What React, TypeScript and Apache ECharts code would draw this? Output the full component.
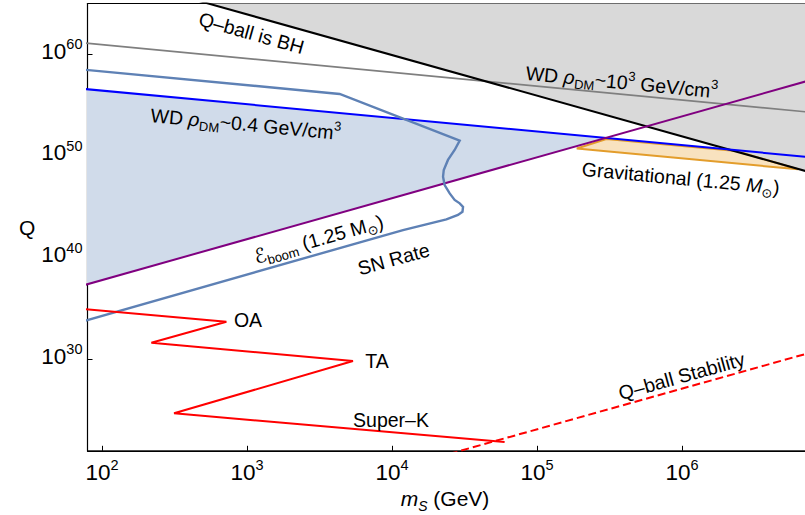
import React, { useEffect, useRef } from "react";
import * as echarts from "echarts";

// ---- data (masses in GeV, Q dimensionless) ----
const xTickExponents = [2, 3, 4, 5, 6];
const yTickExponents = [30, 40, 50, 60];

const bhMass = [100, 1e7];
const bhQ = [8.5e67, 8.5e47];
const bhRegionMass = [100, 1e7, 1e7, 100];
const bhRegionQ = [8.5e67, 8.5e47, 1e70, 1e70];

const wdHighMass = [50, 1e7];
const wdHighQ = [2.3e61, 1.4e54];

const wdLowMass = [50, 1e7];
const wdLowQ = [6.8e56, 5.3e49];

const boomMass = [50, 1e7];
const boomQ = [3.8e36, 8.5e57];

const excludedMass = [50, 2.95e5, 50];
const excludedQ = [6.8e56, 5.9e51, 3.8e36];

const snMass = [50, 4355, 29300, 27040, 24320, 22750, 22490, 23070, 25000, 27040, 29310, 30900, 30620, 28510, 23710, 11910, 50];
const snQ = [5.4e58, 1.26e56, 3.2e51, 3.9e50, 4.1e49, 4.2e48, 9.1e47, 1.4e47, 2.1e46, 4.7e45, 2.2e45, 1.0e45, 3.3e44, 1.6e44, 5.9e43, 5.2e42, 1.1e33];

const gravMass = [1.88e5, 3.01e5, 2.37e6, 6.31e6];
const gravQ = [5.5e50, 4.68e51, 3.09e50, 4.9e48];

const detMass = [70, 721, 219, 5380, 314, 5.98e4];
const detQ = [9.8e34, 5.0e33, 4.3e31, 6.8e29, 4.9e24, 7.2e21];

const stabMass = [2.5e4, 1e7];
const stabQ = [5.1e20, 1.3e31];

const FONT = '"Liberation Sans", Arial, Helvetica, sans-serif';

const toPts = (ms: number[], qs: number[]) => ms.map((m, i) => [Math.log10(m), Math.log10(qs[i])]);

function lineSeries(ms: number[], qs: number[], color: string, width: number, z: number, type: string = "solid") {
  return {
    type: "line",
    data: toPts(ms, qs),
    showSymbol: false,
    symbol: "none",
    silent: true,
    clip: true,
    z,
    lineStyle: { color, width, type, cap: "butt", join: "miter" },
  };
}

function polySeries(ms: number[], qs: number[], fill: string, stroke: string | null, lw: number, z: number) {
  const data = toPts(ms, qs);
  return {
    type: "custom",
    data,
    clip: true,
    silent: true,
    z,
    renderItem: (params: any, api: any) => {
      if (params.dataIndex !== 0) return null;
      const pts = data.map((d) => api.coord(d));
      return {
        type: "polygon",
        shape: { points: pts },
        style: { fill, stroke: stroke || "none", lineWidth: stroke ? lw : 0 },
      };
    },
  };
}

const LH = 24;
const richBase = {
  n: { fontSize: 19.5, fontFamily: FONT, lineHeight: LH, verticalAlign: "bottom", fill: "#000" },
  it: { fontSize: 19.5, fontFamily: FONT, fontStyle: "italic", lineHeight: LH, verticalAlign: "bottom", fill: "#000" },
  sub: { fontSize: 13, fontFamily: FONT, lineHeight: LH, verticalAlign: "bottom", padding: [0, 0, -3, 0], fill: "#000" },
  sup: { fontSize: 13, fontFamily: FONT, lineHeight: LH, verticalAlign: "top", padding: [1, 0, 0, 0], fill: "#000" },
  sc: { fontSize: 20, fontFamily: '"DejaVu Sans", sans-serif', lineHeight: LH, verticalAlign: "bottom", fill: "#000" },
};

function label(text: string, x: number, y: number, rot: number) {
  return {
    type: "text",
    x,
    y,
    rotation: rot,
    silent: true,
    z: 100,
    style: {
      text,
      rich: richBase,
      fontSize: 19.5,
      fontFamily: FONT,
      fill: "#000",
      align: "center",
      verticalAlign: "middle",
    },
  };
}

export default function App() {
  const ref = useRef<HTMLDivElement>(null);
  useEffect(() => {
    if (!ref.current) return;
    const chart = echarts.init(ref.current, null, { renderer: "svg" });
    const tickRich = {
      b: { fontSize: 22.5, fontFamily: FONT, color: "#000", lineHeight: 26, verticalAlign: "bottom" },
      s: { fontSize: 14.5, fontFamily: FONT, color: "#000", lineHeight: 26, verticalAlign: "top" },
    };
    chart.setOption({
      animation: false,
      backgroundColor: "#fff",
      grid: {
        left: 87.5,
        top: 3.5,
        right: -1.7,
        bottom: 64.2,
        outerBoundsMode: "none",
        containLabel: false,
        show: true,
        borderColor: "#000",
        borderWidth: 1,
        backgroundColor: "transparent",
      },
      xAxis: {
        type: "value",
        min: 1.9,
        max: 6.86,
        axisLine: { show: true, lineStyle: { color: "#000", width: 1.2 } },
        axisTick: { show: true, inside: true, length: 5, customValues: xTickExponents, lineStyle: { color: "#000" } },
        axisLabel: {
          customValues: xTickExponents,
          margin: 7,
          formatter: (v: number) => `{b|10}{s|${Math.round(v)}}`,
          rich: tickRich,
        },
        splitLine: { show: false },
      },
      yAxis: {
        type: "value",
        min: 21,
        max: 65,
        name: "Q",
        nameLocation: "middle",
        nameRotate: 0,
        nameGap: 46,
        nameTextStyle: { fontSize: 21, fontFamily: FONT, color: "#000" },
        axisLine: { show: true, lineStyle: { color: "#000", width: 1.2 } },
        axisTick: { show: true, inside: true, length: 5, customValues: yTickExponents, lineStyle: { color: "#000" } },
        axisLabel: {
          customValues: yTickExponents,
          margin: 5,
          padding: [0, 0, 9, 0],
          formatter: (v: number) => `{b|10}{s|${Math.round(v)}}`,
          rich: tickRich,
        },
        splitLine: { show: false },
      },
      series: [
        polySeries(bhRegionMass, bhRegionQ, "#d9d9d9", null, 0, 1),
        polySeries(excludedMass, excludedQ, "#d0dbea", null, 0, 2),
        polySeries(gravMass, gravQ, "#f8e2bf", "#e39d2b", 2, 3),
        lineSeries(wdHighMass, wdHighQ, "#7f7f7f", 1.6, 10),
        lineSeries(bhMass, bhQ, "#000000", 2, 11),
        lineSeries(wdLowMass, wdLowQ, "#0000ff", 2, 12),
        lineSeries(boomMass, boomQ, "#800080", 2, 13),
        lineSeries(snMass, snQ, "#5e81b5", 2.4, 14),
        lineSeries(detMass, detQ, "#ff0000", 2, 15),
        lineSeries(stabMass, stabQ, "#ff0000", 2, 15, "dashed"),
      ],
      graphic: [
        {
          type: "text",
          x: 445,
          y: 497,
          silent: true,
          style: {
            text: "{it|m}{sub|S}{n| (GeV)}",
            rich: {
              it: { fontSize: 21, fontStyle: "italic", fontFamily: FONT, lineHeight: LH, verticalAlign: "bottom", fill: "#000" },
              sub: { fontSize: 14, fontStyle: "italic", fontFamily: FONT, lineHeight: LH, verticalAlign: "bottom", padding: [0, 0, -4, 0], fill: "#000" },
              n: { fontSize: 21, fontFamily: FONT, lineHeight: LH, verticalAlign: "bottom", fill: "#000" },
            },
            align: "center",
            verticalAlign: "middle",
          },
        },
        label("{n|Q–ball is BH}", 252, 31, -0.272),
        label("{n|WD }{it|ρ}{sub|DM}{n|~10}{sup|3}{n| GeV/cm}{sup|3}", 622, 80, -0.096),
        label("{n|WD }{it|ρ}{sub|DM}{n|~0.4 GeV/cm}{sup|3}", 246, 122, -0.094),
        label("{sc|ℰ}{sub|boom}{n| (1.25 M}{sub|⊙}{n|)}", 318, 237, 0.276),
        label("{n|SN Rate}", 393, 257, 0.27),
        label("{n|Gravitational (1.25 }{it|M}{sub|⊙}{n|)}", 681, 176, -0.094),
        label("{n|OA}", 248, 318, 0),
        label("{n|TA}", 377, 359, 0),
        label("{n|Super–K}", 391, 418, 0),
        label("{n|Q–ball Stability}", 681, 374, 0.274),
      ],
    });
    return () => chart.dispose();
  }, []);
  return <div ref={ref} style={{ position: "absolute", left: 0, top: 0, width: 805, height: 515 }} />;
}
